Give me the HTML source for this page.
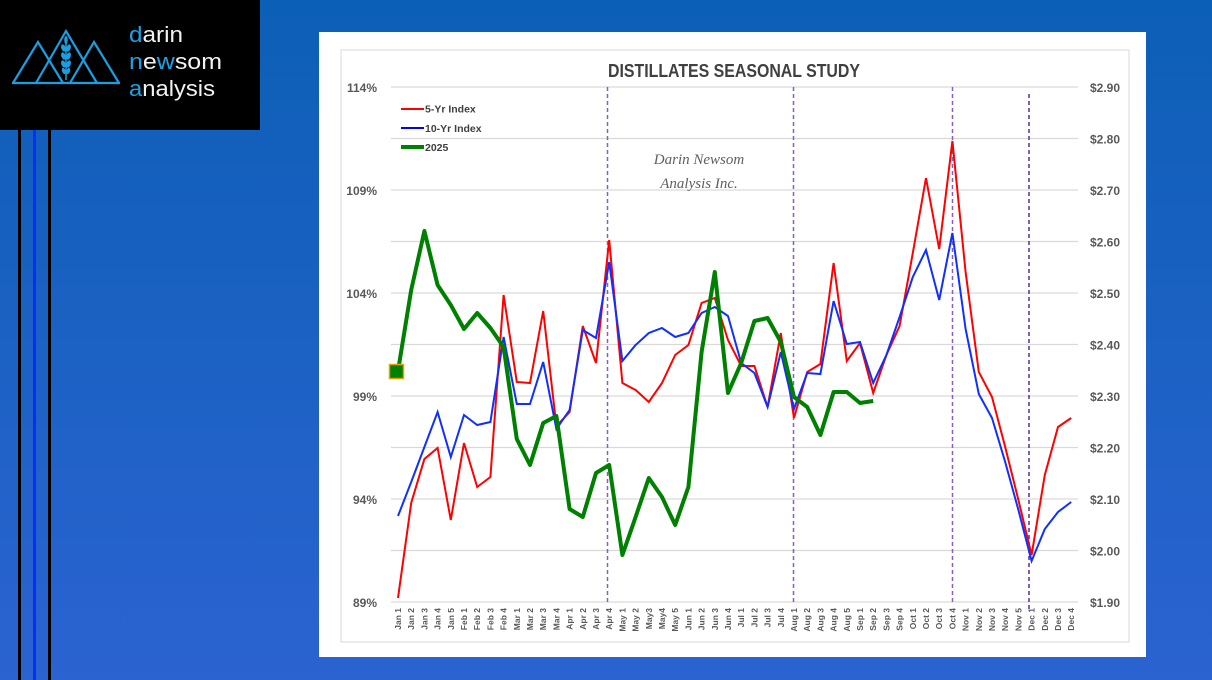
<!DOCTYPE html>
<html><head><meta charset="utf-8"><style>
html,body{margin:0;padding:0;width:1212px;height:680px;overflow:hidden;background:#1a61c4;}
svg{display:block}
</style></head><body>
<svg width="1212" height="680" viewBox="0 0 1212 680" xmlns="http://www.w3.org/2000/svg">
<defs>
<linearGradient id="bg" x1="0" y1="0" x2="0" y2="1">
<stop offset="0" stop-color="#0c5fb6"/>
<stop offset="1" stop-color="#2b63d1"/>
</linearGradient>
</defs>
<rect x="0" y="0" width="1212" height="680" fill="url(#bg)"/>
<!-- left stripes -->
<rect x="18" y="130" width="3" height="550" fill="#000"/>
<rect x="33" y="130" width="3" height="550" fill="#0a2cff"/>
<rect x="48" y="130" width="3" height="550" fill="#000"/>
<!-- logo -->
<rect x="0" y="0" width="260" height="130" fill="#000"/>
<g fill="none" stroke="#1a9fe3" stroke-width="2.2" stroke-linejoin="miter">
<polyline points="13,83 38,42 63,83"/>
<polyline points="36,83 66,31 97,83"/>
<polyline points="70,83 94,42 119,83"/>
<line x1="12" y1="83" x2="120" y2="83"/>
<line x1="66" y1="40" x2="66" y2="80" stroke-width="1.5"/>
</g>
<g fill="#1a9fe3">
<ellipse cx="66" cy="40" rx="1.8" ry="4"/>
<ellipse cx="63.5" cy="48" rx="2.2" ry="3.8" transform="rotate(-20 63.5 48)"/>
<ellipse cx="68.5" cy="48" rx="2.2" ry="3.8" transform="rotate(20 68.5 48)"/>
<ellipse cx="63.5" cy="56" rx="2.2" ry="3.8" transform="rotate(-20 63.5 56)"/>
<ellipse cx="68.5" cy="56" rx="2.2" ry="3.8" transform="rotate(20 68.5 56)"/>
<ellipse cx="63.5" cy="64" rx="2.2" ry="3.8" transform="rotate(-20 63.5 64)"/>
<ellipse cx="68.5" cy="64" rx="2.2" ry="3.8" transform="rotate(20 68.5 64)"/>
<ellipse cx="63.8" cy="71" rx="1.8" ry="3.2" transform="rotate(-20 63.8 71)"/>
<ellipse cx="68.2" cy="71" rx="1.8" ry="3.2" transform="rotate(20 68.2 71)"/>
</g>
<g font-family="Liberation Sans, sans-serif" font-size="22" fill="#f2f2f2">
<text x="129" y="42" textLength="54" lengthAdjust="spacingAndGlyphs"><tspan fill="#1aa3e8">d</tspan>arin</text>
<text x="129" y="69" textLength="93" lengthAdjust="spacingAndGlyphs"><tspan fill="#1aa3e8">n</tspan>e<tspan fill="#1aa3e8">w</tspan>som</text>
<text x="129" y="96" textLength="86" lengthAdjust="spacingAndGlyphs"><tspan fill="#1aa3e8">a</tspan>nalysis</text>
</g>
<!-- white panel -->
<rect x="319" y="32" width="827" height="625" fill="#fff"/>
<rect x="341" y="50" width="788" height="592" fill="none" stroke="#d9d9d9" stroke-width="1"/>
<!-- gridlines -->
<g stroke="#d9d9d9" stroke-width="1.2">
<line x1="391" y1="87" x2="1078" y2="87"/>
<line x1="391" y1="138.5" x2="1078" y2="138.5"/>
<line x1="391" y1="190" x2="1078" y2="190"/>
<line x1="391" y1="241.5" x2="1078" y2="241.5"/>
<line x1="391" y1="293" x2="1078" y2="293"/>
<line x1="391" y1="344.5" x2="1078" y2="344.5"/>
<line x1="391" y1="396" x2="1078" y2="396"/>
<line x1="391" y1="447.5" x2="1078" y2="447.5"/>
<line x1="391" y1="499" x2="1078" y2="499"/>
<line x1="391" y1="550.5" x2="1078" y2="550.5"/>
<line x1="391" y1="602" x2="1078" y2="602"/>
</g>
<!-- title -->
<text x="608" y="77" font-family="Liberation Sans, sans-serif" font-weight="bold" font-size="18" fill="#404040" textLength="252" lengthAdjust="spacingAndGlyphs">DISTILLATES SEASONAL STUDY</text>
<!-- left axis labels -->
<g font-family="Liberation Sans, sans-serif" font-weight="bold" font-size="12" fill="#595959" text-anchor="end">
<text x="377" y="92">114%</text>
<text x="377" y="195">109%</text>
<text x="377" y="298">104%</text>
<text x="377" y="401">99%</text>
<text x="377" y="504">94%</text>
<text x="377" y="607">89%</text>
</g>
<g font-family="Liberation Sans, sans-serif" font-weight="bold" font-size="12" fill="#595959">
<text x="1090" y="92">$2.90</text>
<text x="1090" y="143.5">$2.80</text>
<text x="1090" y="195">$2.70</text>
<text x="1090" y="246.5">$2.60</text>
<text x="1090" y="298">$2.50</text>
<text x="1090" y="349.5">$2.40</text>
<text x="1090" y="401">$2.30</text>
<text x="1090" y="452.5">$2.20</text>
<text x="1090" y="504">$2.10</text>
<text x="1090" y="555.5">$2.00</text>
<text x="1090" y="607">$1.90</text>
</g>
<!-- dashed separators -->
<g stroke-width="1.5" stroke-dasharray="4,3" fill="none">
<line x1="607.5" y1="87" x2="607.5" y2="602" stroke="#8a5cc8"/>
<line x1="793.5" y1="87" x2="793.5" y2="602" stroke="#8a5cc8"/>
<line x1="952.5" y1="87" x2="952.5" y2="602" stroke="#8a5cc8"/>
<line x1="1029" y1="94" x2="1029" y2="610" stroke="#5a2ca0"/>
</g>
<!-- watermark -->
<g font-family="Liberation Serif, serif" font-style="italic" font-size="15" fill="#5f5f5f" text-anchor="middle">
<text x="699" y="164">Darin Newsom</text>
<text x="699" y="188">Analysis Inc.</text>
</g>
<!-- legend -->
<line x1="401" y1="109" x2="424" y2="109" stroke="#ff0000" stroke-width="2"/>
<line x1="401" y1="128" x2="424" y2="128" stroke="#0000ff" stroke-width="2"/>
<line x1="401" y1="147" x2="424" y2="147" stroke="#008000" stroke-width="4"/>
<g font-family="Liberation Sans, sans-serif" font-weight="bold" font-size="10.5" fill="#404040">
<text x="425" y="112.5">5-Yr Index</text>
<text x="425" y="132">10-Yr Index</text>
<text x="425" y="151">2025</text>
</g>
<!-- series -->
<polyline fill="none" stroke="#ff0000" stroke-width="2" stroke-linejoin="miter" points="398,598 411.2,503 424.4,459 437.6,448 450.8,520 464,443 477.2,487 490.4,477 503.6,295 516.8,382 530,383 543.2,311 556.4,426 569.6,412 582.8,326 596,363 609.2,240 622.4,383 635.6,390 648.8,402 662,383 675.2,355 688.4,345 701.6,303 714.8,298 728,340 741.2,366 754.4,366 767.6,407 780.8,333 794,418 807.2,372 820.4,364 833.6,263 846.8,361 860,343 873.2,393 886.4,355 899.6,326 912.8,253 926,178 939.2,249 952.4,141 965.6,272 978.8,372 992,397 1005.2,447 1018.4,500 1031.6,555 1044.8,475 1058,427 1071.2,418"/>
<polyline fill="none" stroke="#1030ff" stroke-width="2" stroke-linejoin="miter" points="398,516 411.2,482 424.4,447 437.6,412 450.8,457 464,415 477.2,425 490.4,422 503.6,337 516.8,404 530,404 543.2,362 556.4,429 569.6,410 582.8,330 596,338 609.2,262 622.4,361 635.6,345 648.8,333 662,328 675.2,337 688.4,333 701.6,313 714.8,307 728,316 741.2,363 754.4,373 767.6,407 780.8,352 794,409 807.2,373 820.4,374 833.6,301 846.8,344 860,342 873.2,383 886.4,355 899.6,317 912.8,277 926,250 939.2,300 952.4,233 965.6,329 978.8,394 992,418 1005.2,462 1018.4,510 1031.6,561 1044.8,529 1058,512 1071.2,502"/>
<polyline fill="none" stroke="#008000" stroke-width="4" stroke-linejoin="round" points="398,371 411.2,290 424.4,231 437.6,285 450.8,305 464,329 477.2,313 490.4,328 503.6,347 516.8,439 530,465 543.2,423 556.4,416 569.6,509 582.8,517 596,473 609.2,465 622.4,555 635.6,517 648.8,478 662,497 675.2,525 688.4,487 701.6,352 714.8,272 728,393 741.2,363 754.4,321 767.6,318 780.8,342 794,397 807.2,407 820.4,435 833.6,392 846.8,392 860,403 873.2,401"/>
<rect x="389.5" y="364.5" width="14" height="14" fill="#008000" stroke="#e6a000" stroke-width="1.5"/>
<!-- x labels -->
<g font-family="Liberation Sans, sans-serif" font-weight="bold" font-size="8.5" fill="#595959" text-anchor="end">
<text transform="translate(401,608) rotate(-90)">Jan 1</text>
<text transform="translate(414.2,608) rotate(-90)">Jan 2</text>
<text transform="translate(427.4,608) rotate(-90)">Jan 3</text>
<text transform="translate(440.6,608) rotate(-90)">Jan 4</text>
<text transform="translate(453.8,608) rotate(-90)">Jan 5</text>
<text transform="translate(467,608) rotate(-90)">Feb 1</text>
<text transform="translate(480.2,608) rotate(-90)">Feb 2</text>
<text transform="translate(493.4,608) rotate(-90)">Feb 3</text>
<text transform="translate(506.6,608) rotate(-90)">Feb 4</text>
<text transform="translate(519.8,608) rotate(-90)">Mar 1</text>
<text transform="translate(533,608) rotate(-90)">Mar 2</text>
<text transform="translate(546.2,608) rotate(-90)">Mar 3</text>
<text transform="translate(559.4,608) rotate(-90)">Mar 4</text>
<text transform="translate(572.6,608) rotate(-90)">Apr 1</text>
<text transform="translate(585.8,608) rotate(-90)">Apr 2</text>
<text transform="translate(599,608) rotate(-90)">Apr 3</text>
<text transform="translate(612.2,608) rotate(-90)">Apr 4</text>
<text transform="translate(625.4,608) rotate(-90)">May 1</text>
<text transform="translate(638.6,608) rotate(-90)">May 2</text>
<text transform="translate(651.8,608) rotate(-90)">May3</text>
<text transform="translate(665,608) rotate(-90)">May4</text>
<text transform="translate(678.2,608) rotate(-90)">May 5</text>
<text transform="translate(691.4,608) rotate(-90)">Jun 1</text>
<text transform="translate(704.6,608) rotate(-90)">Jun 2</text>
<text transform="translate(717.8,608) rotate(-90)">Jun 3</text>
<text transform="translate(731,608) rotate(-90)">Jun 4</text>
<text transform="translate(744.2,608) rotate(-90)">Jul 1</text>
<text transform="translate(757.4,608) rotate(-90)">Jul 2</text>
<text transform="translate(770.6,608) rotate(-90)">Jul 3</text>
<text transform="translate(783.8,608) rotate(-90)">Jul 4</text>
<text transform="translate(797,608) rotate(-90)">Aug 1</text>
<text transform="translate(810.2,608) rotate(-90)">Aug 2</text>
<text transform="translate(823.4,608) rotate(-90)">Aug 3</text>
<text transform="translate(836.6,608) rotate(-90)">Aug 4</text>
<text transform="translate(849.8,608) rotate(-90)">Aug 5</text>
<text transform="translate(863,608) rotate(-90)">Sep 1</text>
<text transform="translate(876.2,608) rotate(-90)">Sep 2</text>
<text transform="translate(889.4,608) rotate(-90)">Sep 3</text>
<text transform="translate(902.6,608) rotate(-90)">Sep 4</text>
<text transform="translate(915.8,608) rotate(-90)">Oct 1</text>
<text transform="translate(929,608) rotate(-90)">Oct 2</text>
<text transform="translate(942.2,608) rotate(-90)">Oct 3</text>
<text transform="translate(955.4,608) rotate(-90)">Oct 4</text>
<text transform="translate(968.6,608) rotate(-90)">Nov 1</text>
<text transform="translate(981.8,608) rotate(-90)">Nov 2</text>
<text transform="translate(995,608) rotate(-90)">Nov 3</text>
<text transform="translate(1008.2,608) rotate(-90)">Nov 4</text>
<text transform="translate(1021.4,608) rotate(-90)">Nov 5</text>
<text transform="translate(1034.6,608) rotate(-90)">Dec 1</text>
<text transform="translate(1047.8,608) rotate(-90)">Dec 2</text>
<text transform="translate(1061,608) rotate(-90)">Dec 3</text>
<text transform="translate(1074.2,608) rotate(-90)">Dec 4</text>
</g>
</svg>
</body></html>
